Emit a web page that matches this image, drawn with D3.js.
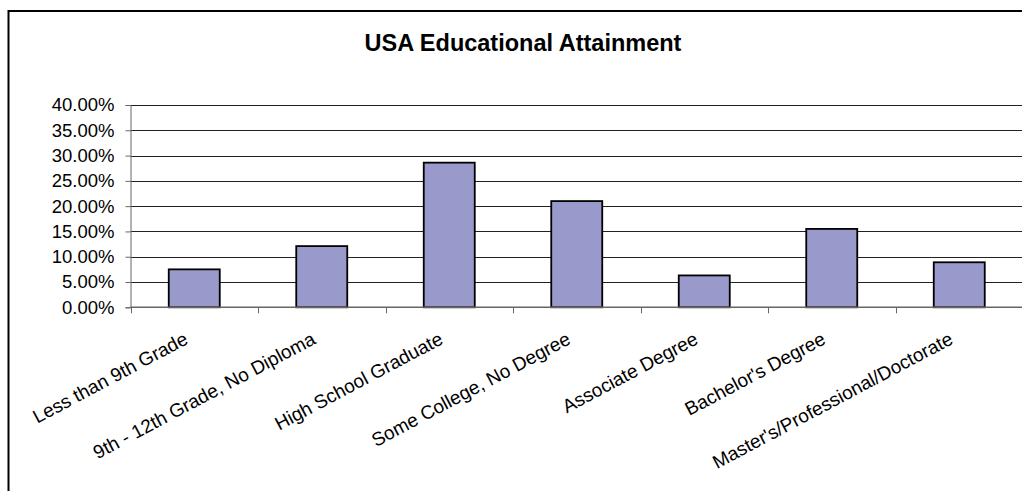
<!DOCTYPE html>
<html>
<head>
<meta charset="utf-8">
<script src="https://cdn.jsdelivr.net/npm/d3@7"></script>
<style>
  html, body { margin: 0; padding: 0; background: #fff; }
  svg { display: block; font-family: "Liberation Sans", Arial, sans-serif; }
</style>
</head>
<body>
<svg id="chart" width="1022" height="491"></svg>
<script>
// Educational attainment shares (fraction of population 25+)
const categories = [
  "Less than 9th Grade",
  "9th - 12th Grade, No Diploma",
  "High School Graduate",
  "Some College, No Degree",
  "Associate Degree",
  "Bachelor's Degree",
  "Master's/Professional/Doctorate"
];
const shares = [0.075, 0.121, 0.286, 0.210, 0.063, 0.155, 0.089];
const yTicks = [0, 0.05, 0.10, 0.15, 0.20, 0.25, 0.30, 0.35, 0.40];
const chartTitle = "USA Educational Attainment";

const svg = d3.select("#chart");

// Outer chart frame (extends past the visible canvas on right and bottom)
svg.append("rect")
  .attr("x", 8.5).attr("y", 11)
  .attr("width", 1100).attr("height", 600)
  .attr("fill", "none").attr("stroke", "#000").attr("stroke-width", 2);

const plot = { left: 130.5, top: 105, bottom: 307.3, step: 127.5 };
plot.right = plot.left + plot.step * categories.length;

const x = d3.scaleBand()
  .domain(categories)
  .range([plot.left, plot.right])
  .paddingInner(0.6)
  .paddingOuter(0.3);

const y = d3.scaleLinear()
  .domain([0, 0.40])
  .range([plot.bottom, plot.top]);

// Title
svg.append("text")
  .attr("x", 523).attr("y", 50.5)
  .attr("text-anchor", "middle")
  .attr("font-weight", "bold")
  .attr("font-size", 23.5)
  .attr("fill", "#000")
  .text(chartTitle);

// Horizontal gridlines
svg.append("g")
  .selectAll("line")
  .data(yTicks.filter(d => d > 0))
  .join("line")
  .attr("x1", plot.left).attr("x2", plot.right)
  .attr("y1", d => Math.round(y(d)) + 0.5)
  .attr("y2", d => Math.round(y(d)) + 0.5)
  .attr("stroke", "#222").attr("stroke-width", 1);

// Bars
svg.append("g")
  .selectAll("rect")
  .data(shares)
  .join("rect")
  .attr("x", (d, i) => x(categories[i]))
  .attr("y", d => y(d))
  .attr("width", x.bandwidth())
  .attr("height", d => y(0) - y(d))
  .attr("fill", "#9999CC")
  .attr("stroke", "#000")
  .attr("stroke-width", 1.8);

// Y axis
const yAxis = svg.append("g")
  .attr("transform", `translate(${plot.left},0)`)
  .call(d3.axisLeft(y).tickValues(yTicks).tickFormat(d3.format(".2%")).tickSize(5).tickPadding(11));
yAxis.select(".domain").attr("stroke", "#666");
yAxis.selectAll(".tick line").attr("stroke", "#666");
yAxis.selectAll(".tick text")
  .attr("font-size", 18.5)
  .attr("font-family", "Liberation Sans, Arial, sans-serif")
  .attr("fill", "#000");

// X axis: tick marks at category boundaries
const bounds = d3.range(categories.length + 1).map(i => plot.left + i * plot.step);
svg.append("line")
  .attr("x1", plot.left).attr("x2", plot.right)
  .attr("y1", plot.bottom).attr("y2", plot.bottom)
  .attr("stroke", "#666").attr("stroke-width", 1.5);
svg.append("g")
  .selectAll("line")
  .data(bounds)
  .join("line")
  .attr("x1", d => Math.round(d) + 0.5).attr("x2", d => Math.round(d) + 0.5)
  .attr("y1", plot.bottom).attr("y2", plot.bottom + 6)
  .attr("stroke", "#666");

// Rotated category labels
svg.append("g")
  .selectAll("text")
  .data(categories)
  .join("text")
  .attr("transform", d => `translate(${x(d) + x.bandwidth() / 2 - 5},343) rotate(-28)`)
  .attr("text-anchor", "end")
  .attr("font-size", 19)
  .attr("fill", "#000")
  .text(d => d);
</script>
</body>
</html>
